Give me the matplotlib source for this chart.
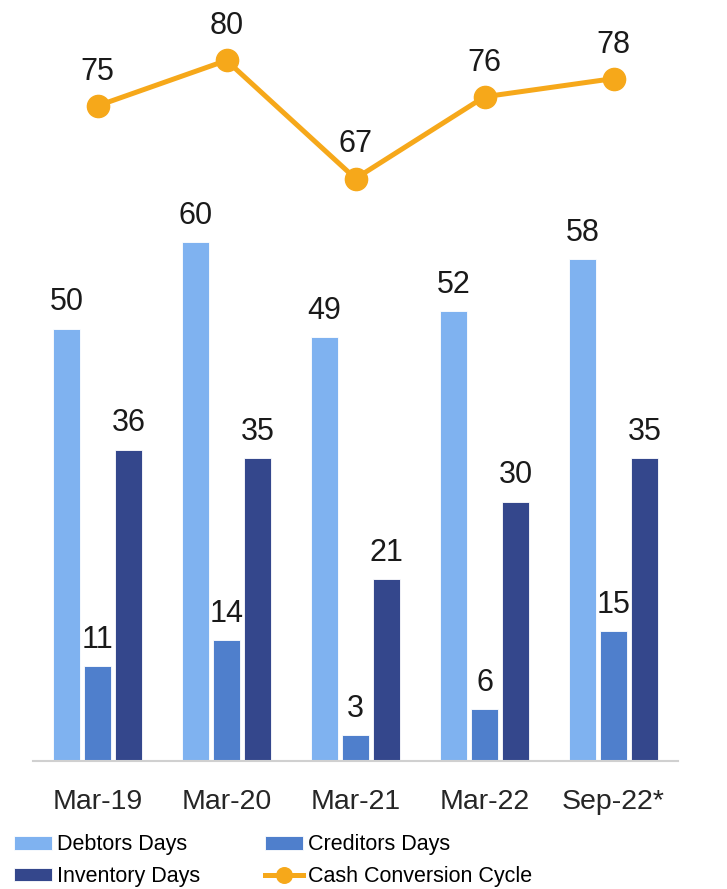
import matplotlib.pyplot as plt
import numpy as np

periods = ["Mar-19", "Mar-20", "Mar-21", "Mar-22", "Sep-22*"]
debtors_days = [50, 60, 49, 52, 58]
creditors_days = [11, 14, 3, 6, 15]
inventory_days = [36, 35, 21, 30, 35]
cash_cycle = [75, 80, 67, 76, 78]

c_debtors = "#7FB2F0"
c_creditors = "#4F7FCC"
c_inventory = "#34478C"
c_ccc = "#F6A81A"

num_font = "Liberation Sans"
txt_font = "Liberation Sans"

fig = plt.figure(figsize=(7.27, 8.89), dpi=100)
ax = fig.add_axes([33 / 727, 1 - 761 / 889, 645 / 727, 756 / 889])

x = np.arange(len(periods))
w = 0.215
off = 0.24
bars = []
for k, (vals, col, lab) in enumerate([
        (debtors_days, c_debtors, "Debtors Days"),
        (creditors_days, c_creditors, "Creditors Days"),
        (inventory_days, c_inventory, "Inventory Days")]):
    b = ax.bar(x + (k - 1) * off, vals, w, color=col, edgecolor="white",
               linewidth=0.6, label=lab, zorder=2)
    bars.append(b)
    for xi, v in zip(x + (k - 1) * off, vals):
        ax.text(xi, v + 1.3, f"{v}", ha="center", va="bottom",
                fontsize=22, family=num_font, color="#1a1a1a")

ax.set_xlim(-0.5, len(periods) - 0.5)
ax.set_ylim(0, 87.4)
ax.set_yticks([])
ax.set_xticks(x)
ax.set_xticklabels(periods, fontsize=20.5, family=txt_font, color="#262626")
ax.tick_params(axis="x", length=0, pad=20)
for s in ["top", "right", "left"]:
    ax.spines[s].set_visible(False)
ax.spines["bottom"].set_color("#d0d0d0")
ax.spines["bottom"].set_linewidth(1.5)

# cash conversion cycle on its own scale
ax2 = ax.twinx()
line, = ax2.plot(x, cash_cycle, color=c_ccc, linewidth=3.6, marker="o",
                 markersize=16, label="Cash Conversion Cycle", zorder=3)
for xi, v in zip(x, cash_cycle):
    ax2.text(xi, v + 2.1, f"{v}", ha="center", va="bottom",
             fontsize=22, family=num_font, color="#1a1a1a")
ax2.set_ylim(2.9, 86.1)
ax2.set_yticks([])
for s in ["top", "right", "left", "bottom"]:
    ax2.spines[s].set_visible(False)

handles = [bars[0], bars[2], bars[1], line]
labels = ["Debtors Days", "Inventory Days", "Creditors Days", "Cash Conversion Cycle"]
fig.legend(handles, labels, loc="upper left",
           bbox_to_anchor=(10 / 727, 1 - 830 / 889),
           ncol=2, frameon=False, prop={"family": txt_font, "size": 15.5},
           handlelength=1.75, handleheight=0.6, columnspacing=3.0,
           labelspacing=0.5, handletextpad=0.25, borderaxespad=0,
           borderpad=0.2, markerscale=0.7)

fig.savefig("out.png", dpi=100)
